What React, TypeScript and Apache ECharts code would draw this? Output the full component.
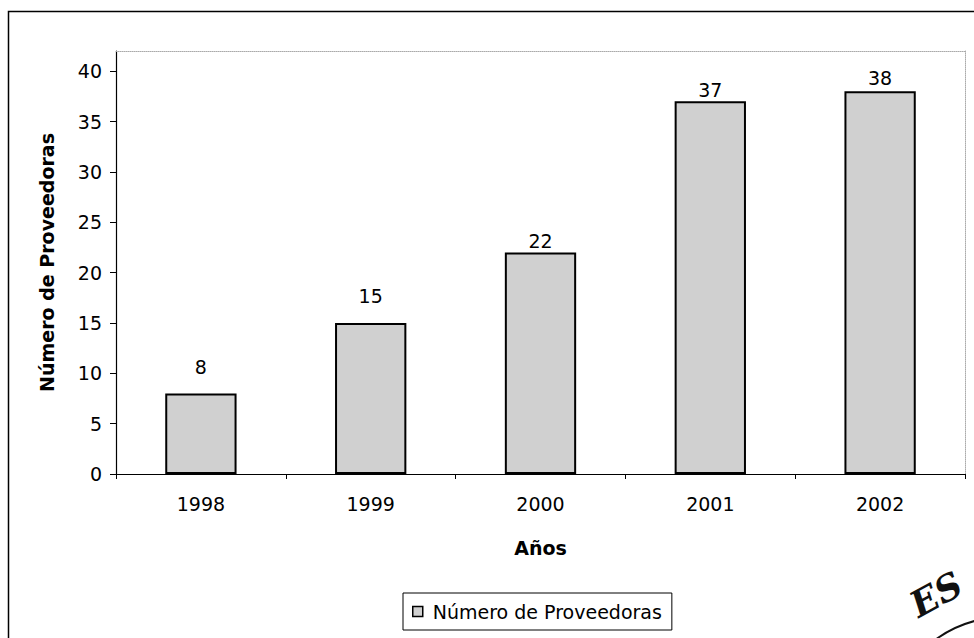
import React, { useEffect, useRef } from "react";
import * as echarts from "echarts";

const years = ["1998", "1999", "2000", "2001", "2002"];
const proveedoras = [8, 15, 22, 37, 38];
const yTicks = [0, 5, 10, 15, 20, 25, 30, 35, 40];
const labelGaps = [17, 17, 2, 2, 4];
const seriesName = "Número de Proveedoras";

const FONT = "DejaVu Sans";
const FS = 19;

export default function App() {
  const ref = useRef<HTMLDivElement>(null);
  useEffect(() => {
    if (!ref.current) return;
    const chart = echarts.init(ref.current, null, { renderer: "svg" });
    chart.setOption({
      animation: false,
      backgroundColor: "#ffffff",
      textStyle: { fontFamily: FONT, color: "#000" },
      grid: { left: 116, right: 9, top: 51, bottom: 164, containLabel: false },
      legend: {
        data: [seriesName],
        left: 403,
        top: 593,
        icon: "rect",
        itemWidth: 10,
        itemHeight: 10,
        padding: [9, 10, 9, 9],
        borderColor: "#000",
        borderWidth: 1,
        itemStyle: { borderColor: "#000", borderWidth: 1.5, color: "#d0d0d0" },
        textStyle: { fontFamily: FONT, fontSize: FS, color: "#000", padding: [0, 0, 0, 5] },
      },
      xAxis: [
        {
          type: "category",
          data: years,
          position: "bottom",
          name: "Años",
          nameLocation: "middle",
          nameGap: 64,
          nameTextStyle: { fontFamily: FONT, fontSize: FS, fontWeight: "bold", color: "#000" },
          axisLine: { onZero: false, lineStyle: { color: "#000", width: 1.2 } },
          axisTick: { show: true, length: 5, inside: false, alignWithLabel: false, lineStyle: { color: "#000" } },
          axisLabel: { fontFamily: FONT, fontSize: FS, color: "#000", margin: 20 },
          splitLine: { show: false },
        },
        {
          type: "category",
          data: years,
          position: "top",
          axisLine: { show: true, onZero: false, lineStyle: { color: "#aaa", type: "dotted", width: 1 } },
          axisTick: { show: false },
          axisLabel: { show: false },
          splitLine: { show: false },
        },
      ],
      yAxis: [
        {
          type: "value",
          min: 0,
          max: 42,
          interval: 5,
          position: "left",
          name: seriesName,
          nameLocation: "middle",
          nameGap: 60,
          nameTextStyle: { fontFamily: FONT, fontSize: FS, fontWeight: "bold", color: "#000" },
          axisLine: { show: true, onZero: false, lineStyle: { color: "#000", width: 1.2 } },
          axisTick: { show: true, length: 6, lineStyle: { color: "#000" }, customValues: yTicks },
          axisLabel: { fontFamily: FONT, fontSize: FS, color: "#000", margin: 14, customValues: yTicks },
          splitLine: { show: false },
        },
        {
          type: "value",
          min: 0,
          max: 42,
          position: "right",
          axisLine: { show: true, onZero: false, lineStyle: { color: "#aaa", type: "dotted", width: 1 } },
          axisTick: { show: false },
          axisLabel: { show: false },
          splitLine: { show: false },
        },
      ],
      series: [
        {
          name: seriesName,
          type: "bar",
          xAxisIndex: 0,
          yAxisIndex: 0,
          barWidth: "42%",
          data: proveedoras.map((v, i) => ({ value: v, label: { distance: labelGaps[i] } })),
          itemStyle: { color: "#d0d0d0", borderColor: "#000", borderWidth: 2 },
          label: {
            show: true,
            position: "top",
            fontFamily: FONT,
            fontSize: FS,
            color: "#000",
          },
        },
      ],
      graphic: [
        {
          type: "rect",
          silent: true,
          shape: { x: 8.5, y: 11.5, width: 1000, height: 800 },
          style: { fill: "none", stroke: "#000", lineWidth: 1.5 },
        },
        {
          type: "text",
          silent: true,
          x: 936,
          y: 594,
          rotation: 0.5,
          style: {
            text: "ES",
            font: 'bold italic 36px "DejaVu Serif"',
            fill: "#111",
            align: "center",
            verticalAlign: "middle",
          },
        },
        {
          type: "arc",
          silent: true,
          shape: { cx: 1005, cy: 735, r: 118, startAngle: -2.3, endAngle: -1.3, clockwise: true },
          style: { fill: "none", stroke: "#111", lineWidth: 2 },
        },
      ],
    });
    return () => chart.dispose();
  }, []);
  return (
    <div
      ref={ref}
      style={{ position: "absolute", left: 0, top: 0, width: 974, height: 638, background: "#fff" }}
    />
  );
}
